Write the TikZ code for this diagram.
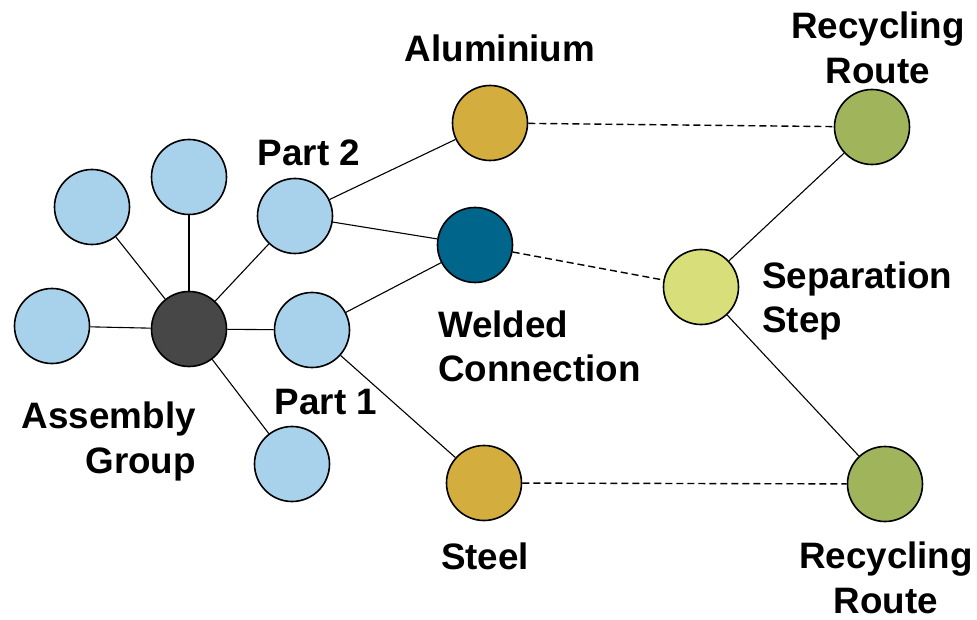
\documentclass[tikz,border=0pt]{standalone}
\usepackage{fontspec}
\setmainfont{Liberation Sans}
\definecolor{lblue}{HTML}{A8D2EC}
\definecolor{dgrey}{HTML}{474747}
\definecolor{gold}{HTML}{D3AD3E}
\definecolor{teal}{HTML}{00658B}
\definecolor{ygreen}{HTML}{D8DF7A}
\definecolor{ogreen}{HTML}{A0B45C}
\begin{document}
\begin{tikzpicture}[x=1pt,y=-1pt,
  dot/.style={circle,draw=black,line width=1.6pt,minimum size=75pt,inner sep=0pt},
  lbl/.style={font=\fontsize{36.8}{44.5}\selectfont\bfseries,inner sep=0pt},
  link/.style={line width=1.1pt},
  dlink/.style={line width=1.4pt,dash pattern=on 7pt off 4pt}]
\useasboundingbox (0,0) rectangle (977,620);
% nodes
\node[dot,fill=dgrey] (asm) at (189,329) {};
\node[dot,fill=lblue] (c1) at (52,326) {};
\node[dot,fill=lblue] (c2) at (92,207) {};
\node[dot,fill=lblue] (c3) at (189,177) {};
\node[dot,fill=lblue] (p2) at (295,216) {};
\node[dot,fill=lblue] (p1) at (312,330) {};
\node[dot,fill=lblue] (c4) at (292,464) {};
\node[dot,fill=gold] (alu) at (490,123) {};
\node[dot,fill=teal] (weld) at (475,245) {};
\node[dot,fill=gold] (steel) at (484,483) {};
\node[dot,fill=ygreen] (sep) at (701,287) {};
\node[dot,fill=ogreen] (rt) at (872,127) {};
\node[dot,fill=ogreen] (rb) at (885,484) {};
% edges
\draw[link] (asm) -- (c1);
\draw[link] (asm) -- (c2);
\draw[link] (asm) -- (c3);
\draw[link] (asm) -- (p2);
\draw[link] (asm) -- (p1);
\draw[link] (asm) -- (c4);
\draw[link] (p2) -- (alu);
\draw[link] (p2) -- (weld);
\draw[link] (p1) -- (weld);
\draw[link] (p1) -- (steel);
\draw[link] (sep) -- (rt);
\draw[link] (sep) -- (rb);
\draw[dlink] (alu) -- (rt);
\draw[dlink] (weld) -- (sep);
\draw[dlink] (steel) -- (rb);
% labels
\node[lbl] (lalu) at (500,48) {Aluminium};
\node[lbl] (lp2) at (309,153) {Part 2};
\node[lbl] (lp1) at (326,402) {Part 1};
\node[lbl] (lsteel) at (485,556) {Steel};
\node[lbl,align=left,anchor=west] (lweld) at (438,346.5) {Welded\\Connection};
\node[lbl,align=right,anchor=east] (lasm) at (196,441.5) {Assembly\\Group};
\node[lbl,align=left,anchor=west] (lsep) at (762,301) {Separation\\Step};
\node[lbl,align=center] (lrt) at (878,48) {Recycling\\Route};
\node[lbl,align=center] (lrb) at (886,578) {Recycling\\Route};
\end{tikzpicture}
\end{document}
